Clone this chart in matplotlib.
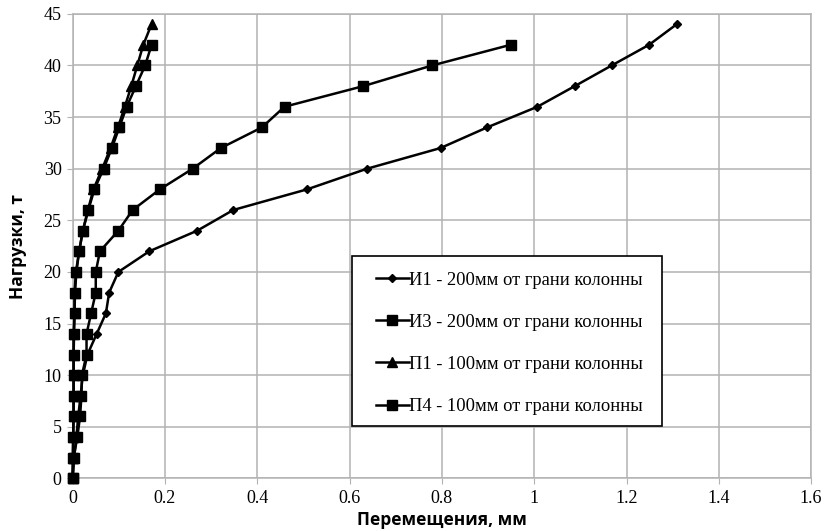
import matplotlib
matplotlib.use("Agg")
import matplotlib.pyplot as plt
from matplotlib.patches import Rectangle

# нагрузка, т (общая сетка по оси Y)
load_44 = [0, 2, 4, 6, 8, 10, 12, 14, 16, 18, 20, 22, 24, 26, 28, 30, 32, 34, 36, 38, 40, 42, 44]
load_42 = load_44[:-1]

# перемещения, мм
i1 = [0, 0.003, 0.008, 0.012, 0.017, 0.022, 0.032, 0.052, 0.072, 0.079, 0.099, 0.166,
      0.27, 0.348, 0.508, 0.638, 0.797, 0.898, 1.007, 1.088, 1.168, 1.249, 1.309]
i3 = [0, 0.002, 0.010, 0.016, 0.019, 0.020, 0.030, 0.030, 0.040, 0.050, 0.050, 0.059,
      0.099, 0.130, 0.189, 0.260, 0.321, 0.410, 0.459, 0.630, 0.779, 0.949]
p1 = [0, 0, 0.001, 0.002, 0.002, 0.002, 0.002, 0.003, 0.004, 0.005, 0.008, 0.014,
      0.022, 0.033, 0.045, 0.064, 0.082, 0.098, 0.113, 0.127, 0.140, 0.153, 0.171]
p4 = [0, 0.001, 0.001, 0.002, 0.002, 0.002, 0.002, 0.002, 0.004, 0.004, 0.007, 0.014,
      0.022, 0.034, 0.047, 0.067, 0.085, 0.101, 0.117, 0.137, 0.157, 0.171]

labels = ["И1 - 200мм от грани колонны", "И3 - 200мм от грани колонны",
          "П1 - 100мм от грани колонны", "П4 - 100мм от грани колонны"]

serif = "Liberation Serif"

fig = plt.figure(figsize=(8.26, 5.31), dpi=100)
ax = fig.add_axes([0.088, 0.099, 0.894, 0.875])

style = dict(color="black", lw=1.8, clip_on=False, zorder=3)
ax.plot(i1, load_44, marker="D", ms=4.5, label=labels[0], **style)
ax.plot(i3, load_42, marker="s", ms=6.5, label=labels[1], **style)
ax.plot(p1, load_44, marker="^", ms=6.5, label=labels[2], **style)
ax.plot(p4, load_42, marker="s", ms=6.5, label=labels[3], **style)

ax.set_xlim(0, 1.6)
ax.set_ylim(0, 45)
ax.set_xticks([0, 0.2, 0.4, 0.6, 0.8, 1, 1.2, 1.4, 1.6])
ax.set_xticklabels(["0", "0.2", "0.4", "0.6", "0.8", "1", "1.2", "1.4", "1.6"])
ax.set_yticks(range(0, 46, 5))
ax.grid(True, color="#b3b3b3", lw=1.1)
ax.set_axisbelow(True)
for s in ax.spines.values():
    s.set_color("#b3b3b3")
    s.set_linewidth(1.1)
ax.tick_params(length=4, color="#b3b3b3", labelsize=13, pad=4)
for t in ax.get_xticklabels() + ax.get_yticklabels():
    t.set_fontfamily(serif)

ax.set_xlabel("Перемещения, мм", fontfamily="Open Sans", fontweight="bold",
              fontsize=12.5, labelpad=3)
ax.set_ylabel("Нагрузки, т", fontfamily="Open Sans", fontweight="bold",
              fontsize=12.5, labelpad=12)

# рамка легенды отдельно, чтобы задать поля по горизонтали и вертикали
box = Rectangle((0.378, 0.113), 0.42, 0.366, transform=ax.transAxes,
                facecolor="white", edgecolor="black", lw=1.2, zorder=4)
ax.add_patch(box)

leg = ax.legend(loc="upper left", bbox_to_anchor=(0.411, 0.445),
                prop={"family": serif, "size": 13.3},
                handlelength=1.75, handletextpad=0.05, labelspacing=1.36,
                borderpad=0, borderaxespad=0, frameon=False)
leg.set_zorder(5)

fig.savefig("out.png", dpi=100)
